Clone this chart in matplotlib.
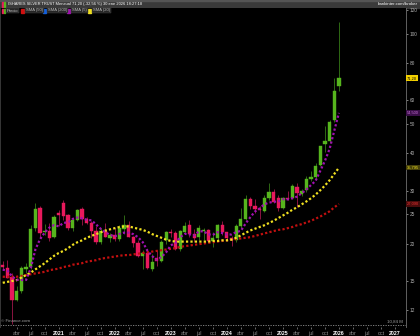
import pandas as pd
import matplotlib
matplotlib.use("Agg")
import matplotlib.pyplot as plt
from matplotlib.patches import Rectangle
from matplotlib.transforms import blended_transform_factory

W, H = 420, 336

# monthly candles, Jan 2020 .. Jan 2026 (SLV)
opens = [16.9, 16.6, 15.5, 13.0, 13.9, 16.5, 16.7, 22.5, 26.2, 21.8,
         22.1, 21.0, 25.3, 27.4, 24.9, 22.6, 24.0, 26.0, 24.2, 23.4,
         22.1, 20.3, 22.1, 20.9, 21.4, 20.7, 22.4, 23.0, 21.1, 20.1,
         18.2, 18.6, 16.5, 17.9, 17.5, 20.5, 21.9, 21.7, 19.2, 21.9,
         23.0, 21.5, 21.0, 22.0, 22.2, 20.4, 20.9, 23.1, 21.8, 20.9,
         20.5, 22.9, 24.2, 28.1, 26.6, 26.1, 25.6, 28.4, 29.8, 28.3,
         26.3, 28.4, 28.3, 30.8, 29.3, 30.2, 32.8, 33.4, 36.5, 42.9,
         43.8, 51.6, 67.0]
highs = [17.5, 17.6, 16.0, 14.4, 16.8, 17.2, 23.1, 27.3, 26.6, 23.3,
         23.4, 24.8, 25.9, 27.9, 25.1, 24.4, 26.1, 26.4, 24.5, 23.8,
         22.8, 22.6, 23.4, 21.7, 22.5, 23.0, 24.9, 23.7, 21.2, 20.6,
         19.0, 19.0, 18.4, 19.0, 20.5, 22.0, 22.4, 22.0, 22.2, 23.6,
         24.0, 22.3, 23.0, 22.6, 22.4, 21.9, 23.3, 23.8, 21.9, 21.2,
         23.2, 26.3, 29.0, 28.5, 28.1, 26.7, 29.0, 31.8, 30.3, 29.1,
         28.6, 30.0, 31.6, 31.8, 30.5, 33.5, 35.0, 37.0, 42.4, 49.3,
         51.6, 71.2, 109.7]
lows = [16.4, 15.3, 10.8, 12.9, 13.7, 16.0, 16.5, 22.0, 20.8, 21.3,
        20.4, 20.9, 22.9, 24.0, 22.2, 22.1, 23.8, 23.0, 23.2, 20.9,
        19.9, 20.0, 21.0, 20.2, 20.4, 20.4, 21.6, 21.0, 19.4, 18.0,
        16.5, 16.5, 16.2, 16.8, 17.4, 19.9, 21.0, 19.0, 18.9, 21.7,
        21.1, 20.3, 20.5, 20.6, 20.3, 19.4, 20.6, 21.3, 20.4, 19.6,
        20.3, 22.6, 23.9, 26.0, 25.3, 24.2, 25.5, 28.0, 27.3, 25.7,
        26.0, 28.0, 28.1, 26.4, 28.8, 29.8, 32.3, 32.5, 36.2, 40.5,
        43.3, 51.0, 64.6]
closes = [16.7, 15.4, 13.0, 13.9, 16.6, 16.7, 22.4, 26.0, 21.7, 22.0,
          20.9, 24.6, 24.9, 24.7, 22.6, 24.0, 25.9, 24.1, 23.4, 22.1,
          20.3, 22.0, 21.1, 21.4, 20.7, 22.5, 23.0, 21.1, 20.1, 18.2,
          18.6, 16.6, 17.3, 17.5, 20.2, 21.9, 21.7, 19.2, 22.0, 22.9,
          21.5, 20.8, 22.5, 22.2, 20.4, 20.9, 23.1, 21.8, 20.9, 20.5,
          22.9, 24.1, 28.1, 26.6, 26.1, 25.9, 28.4, 29.8, 27.6, 26.3,
          28.4, 28.2, 31.0, 29.4, 29.9, 32.8, 33.4, 36.3, 42.2, 43.9,
          50.8, 64.4, 71.2]
closes_before = [15.9, 16.6, 15.9, 16.7]  # Sep-Dec 2019, start of SMA(5)

# longer averages (they need history not shown)
sma20 = [14.8, 14.9, 15.0, 15.1, 15.4, 15.7, 16.0, 16.4, 16.8, 17.2,
         17.7, 18.2, 18.6, 18.9, 19.3, 19.8, 20.2, 20.5, 20.9, 21.2,
         21.5, 21.8, 22.1, 22.3, 22.5, 22.7, 22.8, 22.8, 22.6, 22.4,
         22.2, 21.9, 21.5, 21.2, 20.9, 20.6, 20.4, 20.3, 20.3, 20.3,
         20.3, 20.3, 20.3, 20.3, 20.3, 20.4, 20.4, 20.5, 20.5, 20.6,
         20.9, 21.3, 21.7, 22.1, 22.4, 22.7, 23.0, 23.4, 23.8, 24.3,
         24.8, 25.3, 25.9, 26.4, 27.0, 27.6, 28.3, 29.1, 30.1, 31.2,
         32.5, 34.1, 35.795]
sma50 = [15.5, 15.5, 15.5, 15.5, 15.6, 15.7, 15.8, 15.9, 16.0, 16.1,
         16.3, 16.4, 16.5, 16.7, 16.8, 17.0, 17.1, 17.2, 17.4, 17.5,
         17.6, 17.8, 17.9, 18.0, 18.1, 18.2, 18.3, 18.3, 18.4, 18.5,
         18.6, 18.7, 18.8, 18.9, 19.0, 19.1, 19.2, 19.3, 19.5, 19.6,
         19.7, 19.8, 19.9, 20.0, 20.1, 20.2, 20.3, 20.4, 20.5, 20.6,
         20.7, 20.8, 20.9, 21.0, 21.2, 21.4, 21.6, 21.8, 22.0, 22.2,
         22.3, 22.5, 22.7, 23.0, 23.2, 23.5, 23.8, 24.2, 24.6, 25.1,
         25.6, 26.4, 27.09]

y_ticks = [12, 15, 20, 25, 30, 40, 50, 60, 80, 100, 120]
month_names = {3: "abr", 6: "jul", 9: "oct"}
first_year = 2020
n_months_axis = 87

title = "ISHARES SILVER TRUST Mensual 71,20 (-32,56 %) 30 ene 2026 18:27:18"
legend_items = [("SMA (50)", "#d01010"), ("SMA (200)", "#1060e0"),
                ("SMA (5)", "#a010b0"), ("SMA (20)", "#f0e020")]

GREEN, GREEN_WICK = "#56b51d", "#2f6a14"
RED, RED_WICK = "#e8195c", "#8a1440"
FONT = "Liberation Sans"


def fx(px):
    return px / W


def fy(py):
    return 1 - py / H


def comma(v, nd):
    return f"{v:.{nd}f}".replace(".", ",")


months = list(range(len(closes)))
sma5 = pd.Series(closes_before + closes).rolling(5).mean().iloc[4:].tolist()

fig = plt.figure(figsize=(W / 100, H / 100), dpi=100, facecolor="black")
ax = fig.add_axes([0, fy(327), fx(405.7), (327 - 8) / H], facecolor="black")

# candles
up = [c >= o for o, c in zip(opens, closes)]
ax.vlines(months, lows, highs, colors=[GREEN_WICK if u else RED_WICK for u in up],
          linewidth=0.7, zorder=2)
bottoms = [min(o, c) for o, c in zip(opens, closes)]
heights = [max(abs(c - o), 0.08) for o, c in zip(opens, closes)]
cols = [GREEN if u else RED for u in up]
ax.bar(months, heights, bottom=bottoms, width=0.7, color=cols, edgecolor=cols,
       linewidth=0.3, zorder=3)

# moving averages
dots = (0, (1, 1))
ax.plot(months, sma50, color="#c01010", lw=1.6, ls=dots, zorder=4)
ax.plot(months, sma20, color="#f0e020", lw=1.6, ls=dots, zorder=4)
ax.plot(months, sma5, color="#a010b0", lw=1.6, ls=dots, zorder=4)

ax.set_yscale("log")
ax.set_ylim(10.54, 121.9)
ax.set_xlim(-0.58, n_months_axis - 0.7)

ax.yaxis.tick_right()
ax.set_yticks(y_ticks)
ax.set_yticklabels([str(t) for t in y_ticks])
ax.yaxis.set_minor_locator(plt.NullLocator())
ax.tick_params(axis="y", colors="#b0b0b0", labelsize=3.4, length=1.5, width=0.5, pad=1.2)
for lab in ax.get_yticklabels():
    lab.set_family(FONT)

xt = list(range(3, n_months_axis, 3))
ax.set_xticks(xt)
xl = []
for m in xt:
    xl.append(str(first_year + m // 12) if m % 12 == 0 else month_names[m % 12])
ax.set_xticklabels(xl)
ax.tick_params(axis="x", colors="#909090", labelsize=3.8, length=1.5, width=0.5, pad=1.5)
for m, lab in zip(xt, ax.get_xticklabels()):
    lab.set_family(FONT)
    if m % 12 == 0:
        lab.set_color("white")
        lab.set_fontweight("bold")

for s in ["top", "bottom"]:
    ax.spines[s].set_visible(False)
ax.spines["left"].set_color("#404040")
ax.spines["left"].set_linewidth(0.6)
ax.spines["right"].set_color("#707070")
ax.spines["right"].set_linewidth(0.6)

# dotted baseline of the volume pane
ax.axhline(10.72, color="#909090", lw=0.6, ls=(0, (1.5, 1.5)), zorder=1)
fig.text(fx(403), fy(321.5), "10,84 M", color="#a0a0a0", fontsize=3.2,
         family=FONT, ha="right", va="center")
fig.text(fx(1), fy(321.5), "© Finance.com", color="#a0a0a0", fontsize=3.2,
         family=FONT, ha="left", va="center")

# value boxes on the price scale
tr = blended_transform_factory(ax.transAxes, ax.transData)
boxes = [
    (closes[-1], comma(closes[-1], 2), "black", "#f2d000"),
    (sma5[-1], comma(sma5[-1], 3), "#c870d8", "#3a0f48"),
    (sma20[-1], comma(sma20[-1], 3), "#f0e020", "#45400c"),
    (sma50[-1], comma(sma50[-1], 3), "#e83030", "#4a0c0c"),
]
for val, txt, tc, bc in boxes:
    ax.text(1.003, val, txt, transform=tr, color=tc, fontsize=2.9, family=FONT,
            ha="left", va="center", clip_on=False, zorder=6,
            bbox=dict(boxstyle="square,pad=0.2", fc=bc, ec="none"))

# header bar
fig.add_artist(Rectangle((0, fy(8)), 1, 8 / H, transform=fig.transFigure,
                         color="#3a3a3a", zorder=0))
fig.add_artist(Rectangle((0, fy(1)), 1, 1 / H, transform=fig.transFigure,
                         color="#555555", zorder=0))
fig.add_artist(Rectangle((fx(1.5), fy(6.5)), fx(1.5), 4.5 / H, transform=fig.transFigure,
                         color=RED))
fig.add_artist(Rectangle((fx(3.5), fy(6.5)), fx(1.5), 4.5 / H, transform=fig.transFigure,
                         color=GREEN))
fig.text(fx(8), fy(4.2), title, color="white", fontsize=2.9, family=FONT,
         ha="left", va="center")
fig.text(fx(418), fy(4.2), "bankinter.com/broker", color="white", fontsize=3.2,
         family=FONT, ha="right", va="center")

# legend row
fig.add_artist(Rectangle((fx(1.5), fy(12.5)), fx(1.5), 4 / H, transform=fig.transFigure,
                         color=RED, zorder=7))
fig.add_artist(Rectangle((fx(3.5), fy(12.5)), fx(1.5), 4 / H, transform=fig.transFigure,
                         color=GREEN, zorder=7))
fig.text(fx(7), fy(10.5), "Precio", color="#c0c0c0", fontsize=3.0, family=FONT,
         ha="left", va="center", zorder=7,
         bbox=dict(boxstyle="square,pad=0.2", fc="#262626", ec="#4a4a4a", lw=0.3))
xpos = [20.5, 42.5, 66.5, 87.5]
for (lab, c), x0 in zip(legend_items, xpos):
    fig.add_artist(Rectangle((fx(x0), fy(12.8)), fx(3.8), 4.3 / H,
                             transform=fig.transFigure, color=c, zorder=7))
    fig.text(fx(x0 + 5.5), fy(10.5), lab, color="#c0c0c0", fontsize=3.0, family=FONT,
             ha="left", va="center", zorder=7,
             bbox=dict(boxstyle="square,pad=0.2", fc="#262626", ec="#4a4a4a", lw=0.3))

fig.savefig("out.png", dpi=100, facecolor="black")
